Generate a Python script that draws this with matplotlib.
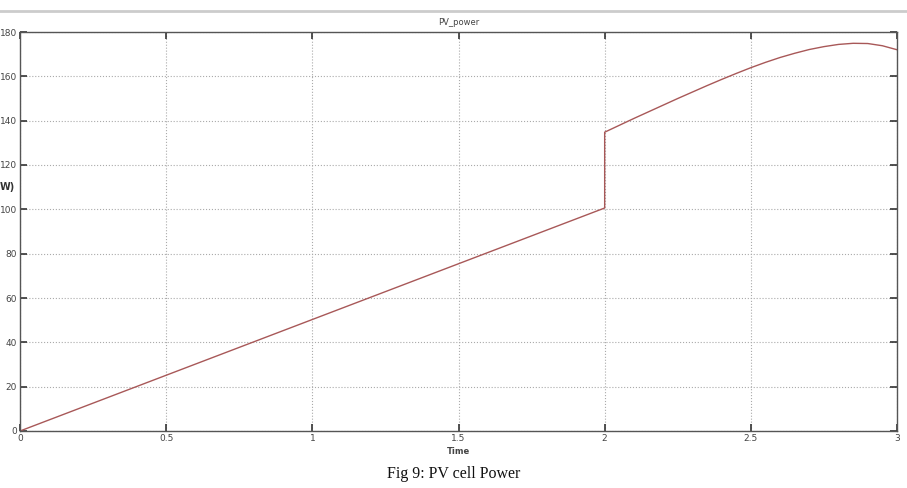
import matplotlib
matplotlib.use("Agg")
import matplotlib.pyplot as plt
import numpy as np

# PV power trace
t_ramp = [0.0, 2.0]
p_ramp = [0.0, 100.6]

t_curve = [2.0, 2.0, 2.05, 2.1, 2.15, 2.2, 2.25, 2.3, 2.35, 2.4, 2.45, 2.5,
           2.55, 2.6, 2.65, 2.7, 2.75, 2.8, 2.85, 2.9, 2.95, 3.0]
p_curve = [100.6, 134.8, 137.9, 141.0, 144.0, 147.0, 150.0, 152.9, 155.8, 158.6, 161.3, 163.9,
           166.3, 168.5, 170.4, 172.1, 173.4, 174.4, 174.9, 174.8, 173.8, 172.0]

x_ticks = [0, 0.5, 1, 1.5, 2, 2.5, 3]
x_labels = ["0", "0.5", "1", "1.5", "2", "2.5", "3"]
y_ticks = [0, 20, 40, 60, 80, 100, 120, 140, 160, 180]

t = np.array(t_ramp + t_curve[1:])
p = np.array(p_ramp + p_curve[1:])

fig = plt.figure(figsize=(9.07, 4.88), dpi=100)
ax = fig.add_axes([20 / 907, 1 - 431 / 488, 877 / 907, 399 / 488])

ax.plot(t, p, color='#a85858', lw=1.0)

ax.set_xlim(0, 3)
ax.set_ylim(0, 180)
ax.set_xticks(x_ticks)
ax.set_xticklabels(x_labels)
ax.set_yticks(y_ticks)

ax.tick_params(direction='in', length=5, width=1.2, colors='#333333',
               labelsize=6.5, labelcolor='#444444', top=True, right=True, pad=2)
for s in ax.spines.values():
    s.set_color('#555555')
    s.set_linewidth(1.0)

ax.grid(True, linestyle=':', color='#aaaaaa', lw=0.8)

ax.set_xlabel('Time', fontsize=6, fontweight='bold', color='#444444', labelpad=3)
ax.set_title('PV_power', fontsize=6, color='#444444', pad=5)

# cropped y label and top separator line of the original screenshot
fig.text(0.0, 1 - 187 / 488, 'W)', fontsize=7, fontweight='bold', ha='left', va='center', color='#333333')
fig.add_artist(plt.Line2D([0, 1], [1 - 11 / 488, 1 - 11 / 488], color='#cccccc', lw=2))

fig.text(0.5, 1 - 474 / 488, 'Fig 9: PV cell Power', fontsize=11.5, family='Liberation Serif',
         ha='center', va='center', color='#111111')

fig.savefig('out.png', dpi=100)
